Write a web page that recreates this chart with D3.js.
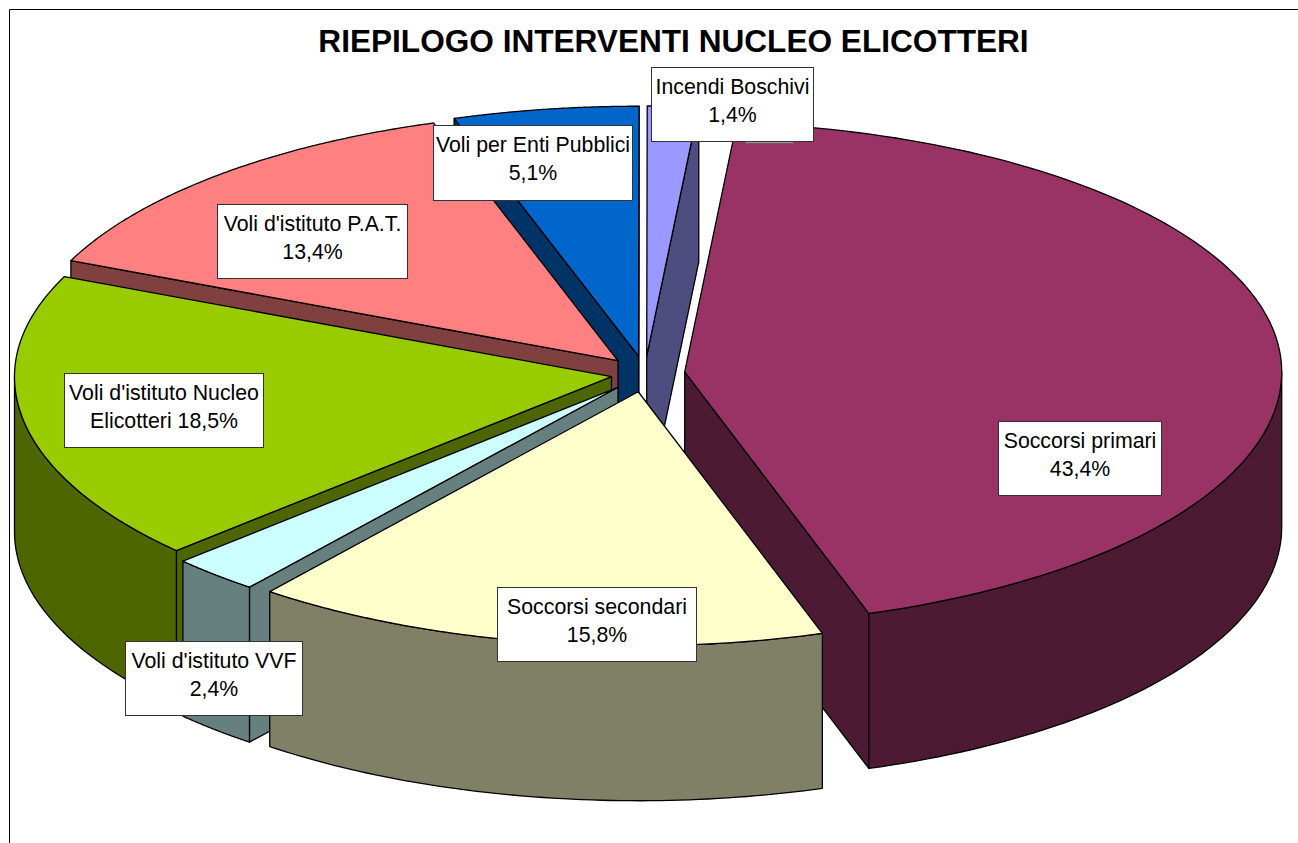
<!DOCTYPE html>
<html><head><meta charset="utf-8">
<script src="https://cdn.jsdelivr.net/npm/d3@7"></script>
<style>html,body{margin:0;padding:0;background:#fff;overflow:hidden}svg{display:block}</style>
</head><body><svg id="c" width="1298" height="843"></svg>
<script>
const categories = ["Soccorsi primari","Soccorsi secondari","Voli d'istituto VVF","Voli d'istituto Nucleo Elicotteri","Voli d'istituto P.A.T.","Voli per Enti Pubblici","Incendi Boschivi"];
const values = [43.4,15.8,2.4,18.5,13.4,5.1,1.4];
const topColors = ["#993366","#FFFFCC","#CCFFFF","#99CC00","#FF8080","#0066CC","#9999FF"];
const explosion = [1,1,1,0.85,1,1,1];
const drawOrder = [5,6,0,4,3,2,1];
const labelLines = [["Soccorsi primari","43,4%"],["Soccorsi secondari","15,8%"],["Voli d'istituto VVF","2,4%"],["Voli d'istituto Nucleo","Elicotteri 18,5%"],["Voli d'istituto P.A.T.","13,4%"],["Voli per Enti Pubblici","5,1%"],["Incendi Boschivi","1,4%"]];
const labelBoxes = [[998,421,163,74],[497,587,199,74],[125,641,177,74],[64,373,199,74],[217,204,190,74],[433,125,199,75],[651,67,162,74]];
const titleText = "RIEPILOGO INTERVENTI NUCLEO ELICOTTERI";

const svg = d3.select("#c");
const deg = Math.PI/180;
const cx = 645, cy = 374, rx = 597, ryBack = 250, ryFront = 254, depth = 155, ex = 40, ey = 18;
const sx = d3.scaleLinear().domain([-1,1]).range([-rx,rx]);
const syBack = d3.scaleLinear().domain([0,1]).range([0,-ryBack]);
const syFront = d3.scaleLinear().domain([-1,0]).range([ryFront,0]);
const sy = v => v>=0 ? syBack(v) : syFront(v);
// slight perspective warp from pie angle to drawn angle
const viewAngle = d3.scaleLinear().domain([5,161.2,218.1,341.6,365].map(d=>d*deg)).range([5,162,218.1,342,365].map(d=>d*deg));
const arcs = d3.pie().sort(null).value(d=>d).startAngle(5*deg).endAngle(365*deg)(values);
const line = d3.line();
const wallColor = c => { const r=d3.rgb(c); return d3.rgb(r.r/2,r.g/2,r.b/2).formatHex(); };

function slice(i){
  const a = arcs[i], mid=(a.startAngle+a.endAngle)/2, e=explosion[i];
  const ax = cx+ex*e*Math.sin(mid), ay = cy-ey*e*Math.cos(mid);
  const rim = t => [ax+sx(Math.sin(t)), ay+sy(Math.cos(t))];
  const down = p => [p[0],p[1]+depth];
  return {a,ax,ay,rim,down};
}
function drawPoly(pts,fill){
  svg.append("path").attr("d",line(pts)+"Z").attr("fill",fill).attr("stroke","#000").attr("stroke-width",1.3).attr("stroke-linejoin","round");
}
drawOrder.forEach(i=>{
  const {a,ax,ay,rim,down} = slice(i);
  const t0=viewAngle(a.startAngle),t1=viewAngle(a.endAngle),wall=wallColor(topColors[i]),apex=[ax,ay];
  if(Math.sin(t0)<0){ const p=rim(t0); drawPoly([apex,p,down(p),down(apex)],wall); }
  if(Math.sin(t1)>0){ const p=rim(t1); drawPoly([apex,p,down(p),down(apex)],wall); }
  const f0=Math.max(t0,90*deg), f1=Math.min(t1,270*deg);
  if(f1>f0){
    const pts=d3.range(0,61).map(k=>rim(f0+(f1-f0)*k/60));
    drawPoly(pts.concat(pts.map(down).reverse()),wall);
  }
  const pts=d3.range(0,121).map(k=>rim(t0+(t1-t0)*k/120));
  drawPoly([apex].concat(pts),topColors[i]);
});
// frame
svg.append("path").attr("d","M9.5,843V9.5H1298").attr("fill","none").attr("stroke","#000").attr("stroke-width",1);
// title
svg.append("text").attr("x",673.5).attr("y",52).attr("text-anchor","middle")
  .attr("font-family","Liberation Sans").attr("font-weight","bold").attr("font-size",31.6).attr("fill","#000").text(titleText);
// leftover sliver under the top label
svg.append("rect").attr("x",745.5).attr("y",136).attr("width",48).attr("height",7).attr("fill","#c8c8c8").attr("stroke","#666").attr("stroke-width",1);
// labels
labelBoxes.forEach((b,i)=>{
  svg.append("rect").attr("x",b[0]+.5).attr("y",b[1]+.5).attr("width",b[2]).attr("height",b[3])
    .attr("fill","#fff").attr("stroke","#333").attr("stroke-width",1);
  labelLines[i].forEach((t,j)=>{
    svg.append("text").attr("x",b[0]+b[2]/2+.5).attr("y",b[1]+27+j*28).attr("text-anchor","middle")
      .attr("font-family","Liberation Sans").attr("font-size",21.3).attr("fill","#000").text(t);
  });
});
</script></body></html>
